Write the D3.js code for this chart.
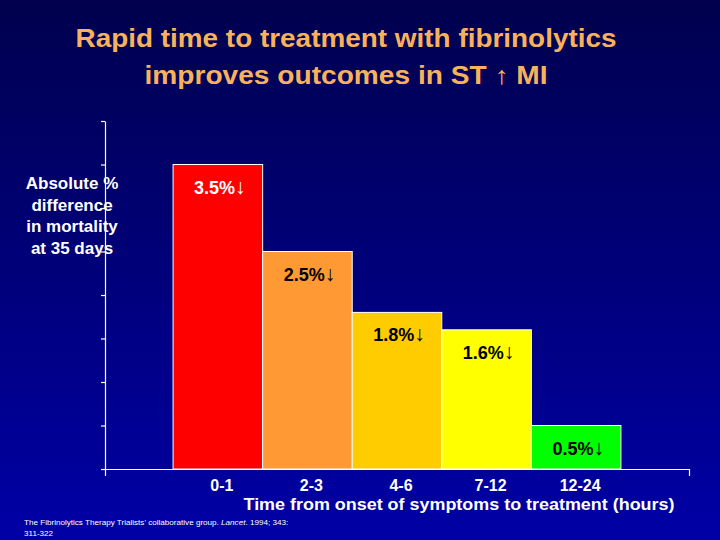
<!DOCTYPE html>
<html><head><meta charset="utf-8">
<script src="https://cdn.jsdelivr.net/npm/d3@7"></script>
<style>html,body{margin:0;padding:0;background:#000060;}svg{display:block;}</style>
</head><body>
<svg id="chart" width="720" height="540"></svg>
<script>
const categories = ["0-1", "2-3", "4-6", "7-12", "12-24"];
const values = [3.5, 2.5, 1.8, 1.6, 0.5];
const barLabels = ["3.5%", "2.5%", "1.8%", "1.6%", "0.5%"];
const barColors = ["#FF0000", "#FF9933", "#FFCC00", "#FFFF00", "#00FF00"];
const labelColors = ["#FFFFFF", "#000000", "#000000", "#000000", "#000000"];
const yTicks = [0, 0.5, 1, 1.5, 2, 2.5, 3, 3.5, 4];
const titleLines = ["Rapid time to treatment with fibrinolytics", "improves outcomes in ST \u2191 MI"];
const yLabelLines = ["Absolute %", "difference", "in mortality", "at 35 days"];
const xTitle = "Time from onset of symptoms to treatment (hours)";

const svg = d3.select("#chart");
const defs = svg.append("defs");
const grad = defs.append("linearGradient").attr("id","bg").attr("x1",0).attr("y1",0).attr("x2",0).attr("y2",1);
grad.append("stop").attr("offset","0%").attr("stop-color","#00004E");
grad.append("stop").attr("offset","100%").attr("stop-color","#0000A6");
svg.append("rect").attr("width",720).attr("height",540).attr("fill","url(#bg)");

const font = "'Liberation Sans', Arial, sans-serif";
const titleWidths = [541, 403];

// title
svg.append("g").selectAll("text").data(titleLines).join("text")
  .attr("x", 346).attr("y", (d,i) => 47 + i*37)
  .attr("text-anchor","middle").attr("font-family",font).attr("font-weight","bold")
  .attr("font-size",25).attr("fill","#F9B25C")
  .attr("textLength",(d,i) => titleWidths[i]).attr("lengthAdjust","spacingAndGlyphs")
  .text(d => d);

const x = d3.scaleBand().domain(categories).range([105, 689]).paddingInner(0).paddingOuter(0.76);
const y = d3.scaleLinear().domain([0, 4]).range([469, 121]);

// y axis
const yAxis = svg.append("g").attr("transform","translate(105,0)")
  .call(d3.axisLeft(y).tickValues(yTicks).tickSize(4).tickSizeOuter(0).tickFormat(""));
yAxis.selectAll("path,line").attr("stroke","#FFFFD8").attr("stroke-width",1.2);

// bars
svg.append("g").selectAll("rect").data(values).join("rect")
  .attr("x", (d,i) => x(categories[i]))
  .attr("y", d => y(d))
  .attr("width", x.bandwidth())
  .attr("height", d => y(0) - y(d))
  .attr("fill", (d,i) => barColors[i])
  .attr("stroke","#FFFFFF").attr("stroke-width",1);

// bar labels
const lab = svg.append("g").selectAll("text").data(values).join("text")
  .attr("x", (d,i) => x(categories[i]) + x.bandwidth()/2 + 2)
  .attr("y", d => y(d) + 29)
  .attr("text-anchor","middle").attr("font-family",font).attr("font-weight","bold")
  .attr("font-size",18).attr("fill",(d,i) => labelColors[i]);
lab.append("tspan").text((d,i) => barLabels[i]);
lab.append("tspan").attr("font-size",21).text("\u2193");

// x axis
const xAxis = svg.append("g").attr("transform","translate(0,469)")
  .call(d3.axisBottom(x).tickSize(0).tickSizeOuter(7).tickPadding(0));
xAxis.select(".domain").attr("stroke","#FFFFF0").attr("stroke-width",1.2);
xAxis.selectAll(".tick text").attr("font-family",font).attr("font-weight","bold")
  .attr("font-size",16).attr("fill","#FFFFFF").attr("dx",4).attr("y",22).attr("dy",0);

svg.append("text").attr("x", 459).attr("y", 510).attr("text-anchor","middle")
  .attr("font-family",font).attr("font-weight","bold").attr("font-size",16)
  .attr("textLength",431).attr("lengthAdjust","spacingAndGlyphs")
  .attr("fill","#FFFFFF").text(xTitle);

// y label
svg.append("g").selectAll("text").data(yLabelLines).join("text")
  .attr("x", 72).attr("y", (d,i) => 189 + i*21.5)
  .attr("text-anchor","middle").attr("font-family",font).attr("font-weight","bold")
  .attr("font-size",17).attr("fill","#FFFFFF").text(d => d);

// footnote
const fn = svg.append("text").attr("x",24).attr("y",525).attr("font-family",font)
  .attr("font-size",8.1).attr("fill","#FFFFFF");
fn.append("tspan").text("The Fibrinolytics Therapy Trialists' collaborative group. ");
fn.append("tspan").attr("font-style","italic").text("Lancet");
fn.append("tspan").text(". 1994; 343:");
svg.append("text").attr("x",24).attr("y",536).attr("font-family",font)
  .attr("font-size",8.1).attr("fill","#FFFFFF").text("311-322");
</script>
</body></html>
